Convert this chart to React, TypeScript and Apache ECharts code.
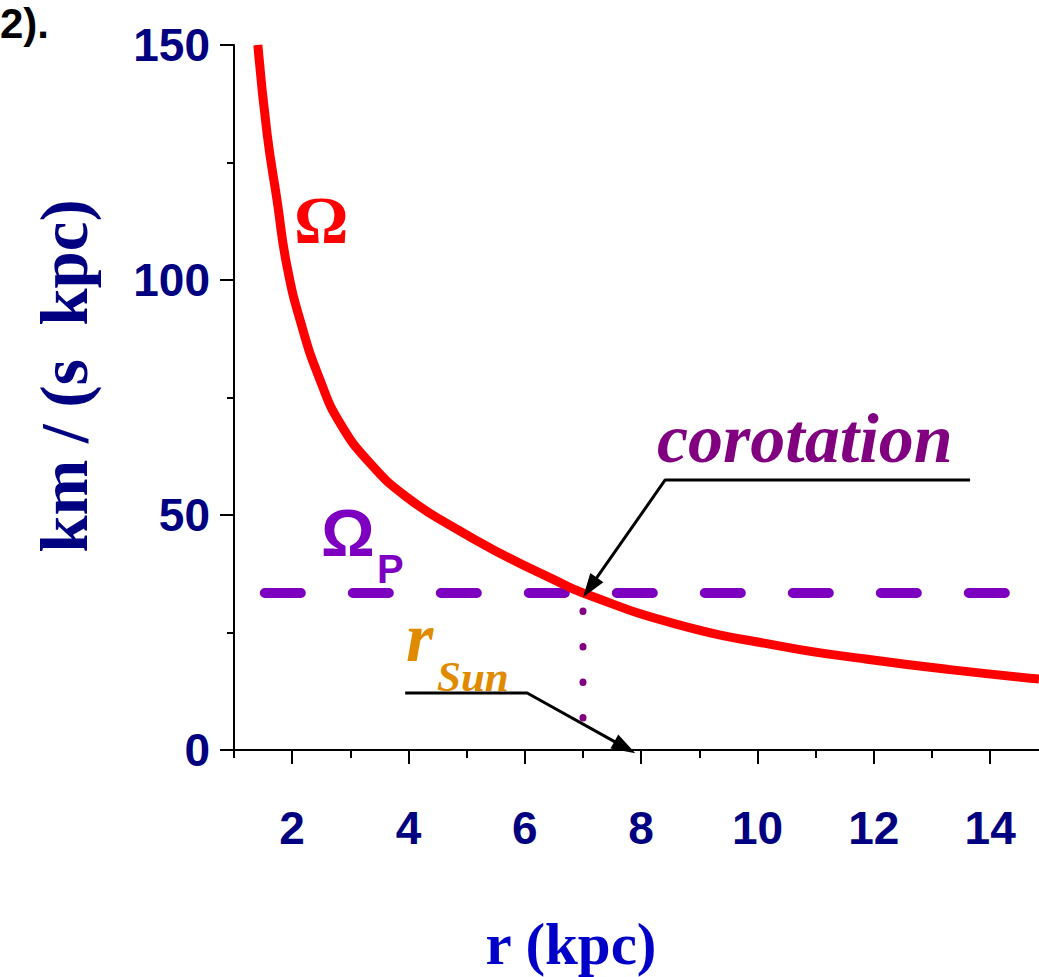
import React, { useEffect, useRef } from "react";
import * as echarts from "echarts";

// ---- data ----
const rValues = [1.41, 1.57, 1.74, 1.91, 2.17, 2.48, 2.82, 3.34, 3.97, 4.77, 5.63, 6.49, 7.0, 8.6, 10.44, 11.89, 13.31, 14.84];
const omegaValues = [150, 131, 117, 103, 90, 78.7, 69.6, 61, 53.8, 47.4, 41.5, 36.3, 33.4, 26.8, 22.0, 19.3, 17.1, 15.1];

const patternSpeed = 33.4; // Omega_P
const patternStartR = 1.53;
const corotationR = 7.0;
const dotTop = 29.6;
const dotBottom = -0.6;

const xMin = 1;
const xMax = 14.84;
const xMajorTicks = [2, 4, 6, 8, 10, 12, 14];
const xMinorTicks = [1, 3, 5, 7, 9, 11, 13];
const yMin = 0;
const yMax = 150;
const yInterval = 50;

// annotation leader polylines (data coordinates); last point = arrowhead centre
const corotationLeader = [[13.655, 57.45], [8.413, 57.45], [7.12, 34.6]];
const sunLeader = [[3.943, 12.13], [6.04, 12.13], [7.72, 0.55]];

const SANS = '"Liberation Sans", Arial, sans-serif';
const SERIF = '"Liberation Serif", "Times New Roman", serif';

export default function App() {
  const ref = useRef<HTMLDivElement>(null);

  useEffect(() => {
    if (!ref.current) return;
    const chart = echarts.init(ref.current, null, { renderer: "svg" });
    const black = { color: "#000", width: 2 };
    const tickLabel = {
      fontSize: 46,
      fontWeight: "bold",
      fontFamily: SANS,
      color: "#000080",
    };
    const leader = (name: string, pts: number[][], rotate: number) => ({
      name,
      type: "line",
      xAxisIndex: 0,
      data: pts.map((p, i) =>
        i === pts.length - 1
          ? { value: p, symbol: "triangle", symbolSize: [16, 24], symbolRotate: rotate }
          : { value: p, symbol: "none" }
      ),
      showSymbol: true,
      showAllSymbol: true,
      clip: false,
      lineStyle: { color: "#000", width: 3 },
      itemStyle: { color: "#000" },
      z: 6,
      silent: true,
    });

    const option: any = {
      animation: false,
      grid: { left: 234, right: 0, top: 45, bottom: 227, containLabel: false },
      xAxis: [
        {
          type: "value",
          min: xMin,
          max: xMax,
          position: "bottom",
          axisLine: { show: true, onZero: false, lineStyle: black },
          axisTick: { show: true, inside: false, length: 14, lineStyle: black, customValues: xMajorTicks },
          axisLabel: { show: true, margin: 55, customValues: xMajorTicks, ...tickLabel },
          splitLine: { show: false },
        },
        {
          type: "value",
          min: xMin,
          max: xMax,
          position: "bottom",
          axisLine: { show: false, onZero: false },
          axisTick: { show: true, inside: false, length: 8, lineStyle: black, customValues: xMinorTicks },
          axisLabel: { show: false },
          splitLine: { show: false },
        },
      ],
      yAxis: {
        type: "value",
        min: yMin,
        max: yMax,
        interval: yInterval,
        axisLine: { show: true, onZero: false, lineStyle: black },
        axisTick: { show: true, inside: false, length: 14, lineStyle: black },
        minorTick: { show: true, splitNumber: 2, length: 7, lineStyle: black },
        axisLabel: { margin: 24, padding: [0, 0, 8, 0], ...tickLabel },
        splitLine: { show: false },
        minorSplitLine: { show: false },
      },
      series: [
        {
          name: "Ω",
          type: "line",
          xAxisIndex: 0,
          data: rValues.map((r, i) => [r, omegaValues[i]]),
          smooth: 0.5,
          showSymbol: false,
          symbol: "none",
          lineStyle: { color: "#ff0000", width: 9 },
          z: 4,
          silent: true,
        },
        {
          name: "ΩP",
          type: "line",
          xAxisIndex: 0,
          data: [
            [patternStartR, patternSpeed],
            [xMax, patternSpeed],
          ],
          showSymbol: false,
          symbol: "none",
          lineStyle: { color: "#7d00c0", width: 10, type: [36, 52], cap: "round" },
          z: 3,
          silent: true,
        },
        {
          name: "corotation radius",
          type: "line",
          xAxisIndex: 0,
          data: [
            [corotationR, dotTop],
            [corotationR, dotBottom],
          ],
          clip: false,
          showSymbol: false,
          symbol: "none",
          lineStyle: { color: "#800080", width: 7, type: [0.5, 35], cap: "round" },
          z: 5,
          silent: true,
        },
        leader("corotation leader", corotationLeader, 145),
        leader("r_Sun leader", sunLeader, -119),
      ],
      graphic: [
        {
          type: "text",
          x: 0,
          y: 23,
          style: { text: "2).", font: `bold 42px ${SANS}`, fill: "#000", align: "left", verticalAlign: "middle" },
        },
        {
          type: "text",
          x: 64,
          y: 376,
          rotation: Math.PI / 2,
          style: { text: "km / (s \u00a0kpc)", font: `bold 67px ${SERIF}`, fill: "#000080", align: "center", verticalAlign: "middle" },
        },
        {
          type: "text",
          x: 571,
          y: 944,
          style: { text: "r (kpc)", font: `bold 59px ${SERIF}`, fill: "#0000c8", align: "center", verticalAlign: "middle" },
        },
        {
          type: "text",
          x: 294,
          y: 220,
          style: { text: "Ω", font: `bold 68px ${SERIF}`, fill: "#ff0000", align: "left", verticalAlign: "middle" },
        },
        {
          type: "text",
          x: 321,
          y: 532,
          style: { text: "Ω", font: `bold 67px ${SANS}`, fill: "#7d00c0", align: "left", verticalAlign: "middle" },
        },
        {
          type: "text",
          x: 377,
          y: 569,
          style: { text: "P", font: `bold 40px ${SANS}`, fill: "#7d00c0", align: "left", verticalAlign: "middle" },
        },
        {
          type: "text",
          x: 657,
          y: 438,
          style: { text: "corotation", font: `italic bold 70px ${SERIF}`, fill: "#800080", align: "left", verticalAlign: "middle" },
        },
        {
          type: "text",
          x: 406,
          y: 637,
          style: { text: "r", font: `italic bold 70px ${SERIF}`, fill: "#e08a00", align: "left", verticalAlign: "middle" },
        },
        {
          type: "text",
          x: 437,
          y: 676,
          style: { text: "Sun", font: `italic bold 43px ${SERIF}`, fill: "#e08a00", align: "left", verticalAlign: "middle" },
        },
      ],
    };
    chart.setOption(option);
    return () => chart.dispose();
  }, []);

  return (
    <div
      ref={ref}
      style={{ position: "fixed", left: 0, top: 0, width: 1039, height: 977, background: "#fff" }}
    />
  );
}
